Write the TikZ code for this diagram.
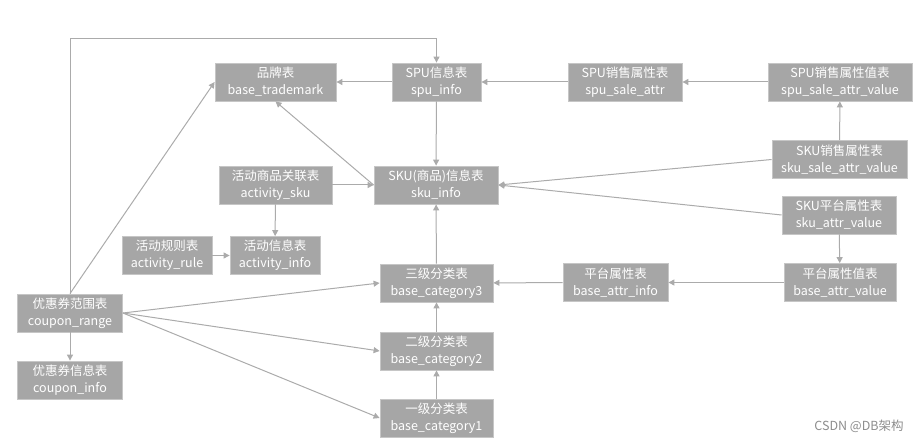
\documentclass[tikz,border=0pt]{standalone}
\usepackage{fontspec}
\newfontfamily\cjk{Noto Sans CJK SC}
\usepackage{tikz}
\usetikzlibrary{arrows.meta}
\usepackage{xcolor}
\definecolor{tblfill}{HTML}{A6A6A6}
\definecolor{tbledge}{HTML}{C6C6C6}
\definecolor{linkgray}{HTML}{ABABAB}
\definecolor{markgray}{HTML}{8C8C8C}

\begin{document}
\begin{tikzpicture}[x=1pt,y=-1pt,
		tbl/.style={fill=tblfill, draw=tbledge, line width=0.8pt, text=white, align=center, inner sep=0pt, minimum height=38pt, font=\cjk\fontsize{12.5}{17}\selectfont},
		link/.style={draw=linkgray, line width=1pt, -{Triangle[length=6pt,width=6pt]}}]
		\useasboundingbox (0,0) rectangle (922,441);
		%
		\node (TM) [tbl, minimum width=121pt] at (275.5,82) {品牌表\\base\_trademark};
		\node (SPU) [tbl, minimum width=89pt] at (436.5,82) {SPU信息表\\spu\_info};
		\node (SPUSA) [tbl, minimum width=114pt] at (625,82) {SPU销售属性表\\spu\_sale\_attr};
		\node (SPUSAV) [tbl, minimum width=144pt] at (840,82) {SPU销售属性值表\\spu\_sale\_attr\_value};
		%
		\node (SKU) [tbl, minimum width=124pt] at (436,185) {SKU(商品)信息表\\sku\_info};
		\node (ASKU) [tbl, minimum width=113pt] at (275.5,185) {活动商品关联表\\activity\_sku};
		\node (SKUSAV) [tbl, minimum width=135pt] at (839.5,159.5) {SKU销售属性表\\sku\_sale\_attr\_value};
		\node (SKUAV) [tbl, minimum width=114pt] at (839,215) {SKU平台属性表\\sku\_attr\_value};
		%
		\node (AR) [tbl, minimum width=90pt] at (167,255.5) {活动规则表\\activity\_rule};
		\node (AI) [tbl, minimum width=90pt] at (275,255.5) {活动信息表\\activity\_info};
		%
		\node (C3) [tbl, minimum width=113pt] at (436.5,283) {三级分类表\\base\_category3};
		\node (C2) [tbl, minimum width=113pt] at (436.5,351) {二级分类表\\base\_category2};
		\node (C1) [tbl, minimum width=113pt] at (436.5,418) {一级分类表\\base\_category1};
		\node (BAI) [tbl, minimum width=105pt] at (615.5,282.5) {平台属性表\\base\_attr\_info};
		\node (BAV) [tbl, minimum width=112pt] at (840,282.5) {平台属性值表\\base\_attr\_value};
		%
		\node (CR) [tbl, minimum width=105pt] at (70,313) {优惠券范围表\\coupon\_range};
		\node (CI) [tbl, minimum width=105pt] at (70,380) {优惠券信息表\\coupon\_info};
		%
		\node (mark) [text=markgray, font=\cjk\fontsize{12.5}{14}\selectfont] at (859,426) {CSDN @DB架构};
		%
		\draw [link] (SPU) -- (TM);
		\draw [link] (SPUSA) -- (SPU);
		\draw [link] (SPUSAV) -- (SPUSA);
		\draw [link] (SPU) -- (SKU);
		\draw [link] (SKU.west) -- (TM.south);
		\draw [link] (ASKU) -- (SKU);
		\draw [link] (SKUSAV) -- (SPUSAV);
		\draw [link] (SKUSAV.west) -- (SKU.east);
		\draw [link] (SKUAV.west) -- (SKU.east);
		\draw [link] (SKUAV) -- (BAV);
		%
		\draw [link] (ASKU) -- (AI);
		\draw [link] (AR) -- (AI);
		%
		\draw [link] (C3) -- (SKU);
		\draw [link] (C2) -- (C3);
		\draw [link] (C1) -- (C2);
		\draw [link] (BAI) -- (C3);
		\draw [link] (BAV) -- (BAI);
		%
		\coordinate (looptop) at (70,38.7);
		\draw [link] (CR.north) -- (looptop) -| (SPU.north);
		\draw [link] (CR.north) -- (TM.west);
		\draw [link] (CR) -- (CI);
		\draw [link] (CR.east) -- (C3.west);
		\draw [link] (CR.east) -- (C2.west);
		\draw [link] (CR.east) -- (C1.west);
	\end{tikzpicture}
\end{document}
